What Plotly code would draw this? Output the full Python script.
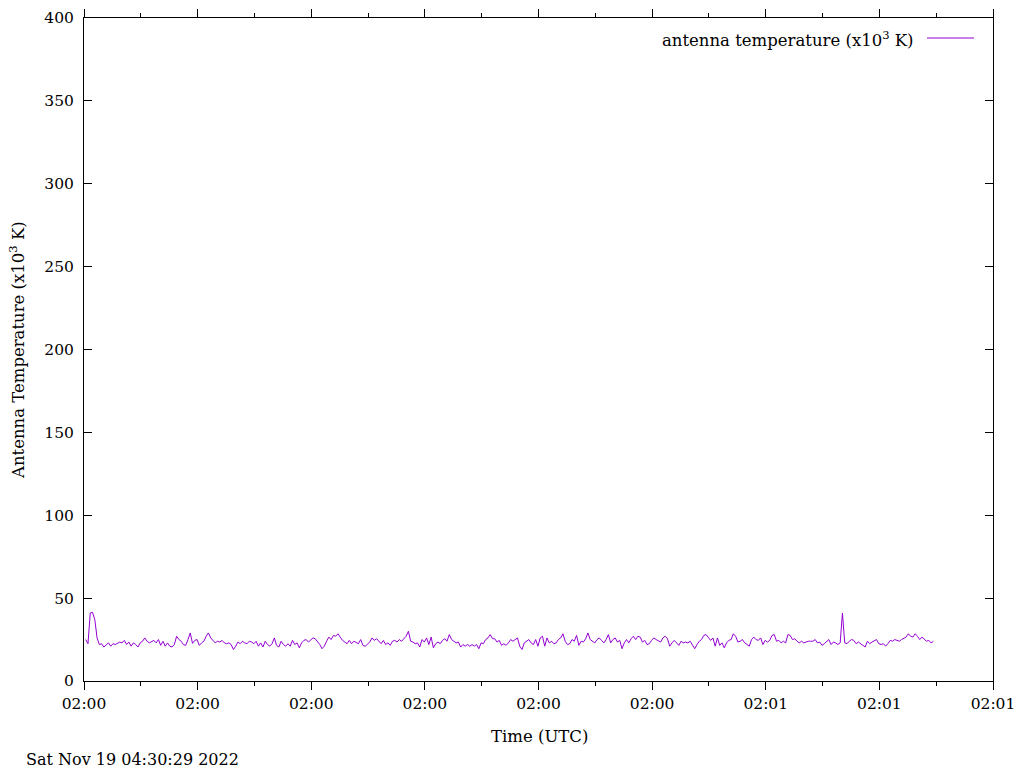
import plotly.graph_objects as go
import pandas as pd

# ---- data ----
start_time = "2022-11-19 02:00:00.150"
sample_period = "200ms"

seg1 = [25, 22.5, 41, 41.5, 37, 26, 22, 22.5, 20.5, 22, 23, 21, 22.5, 22, 23, 23.5, 23, 24.5, 22, 23.5,
        21, 23, 22, 20.5, 23, 24, 26, 24, 23, 24, 24.5, 23, 25, 21.5, 24, 21, 23, 21, 20.5, 22,
        27, 25, 24, 22, 21.5, 25, 29]
seg2 = [22.7, 24.5, 25, 21.5, 23, 24, 27, 29, 26, 24.5, 23, 24, 23.5, 24.5, 23, 22.5, 23, 22, 19, 21,
        23.5, 22.5, 24, 23, 22.5, 24, 23.5, 22.5, 24, 21, 23, 20.5, 24, 22, 21, 22.5, 26, 21.5, 20.5, 24,
        22, 21, 22.5, 21, 24.5]
seg3 = [22, 23, 20, 23, 24.5, 25, 23.5, 25, 26, 25.5, 24, 22, 19.5, 21, 24, 26.5, 25, 27.5, 27, 28.5,
        26.5, 24.5, 23.5, 22.5, 24.5, 22.5, 24, 23, 22.5, 25, 21.5, 21, 22, 23.5, 26, 24.5, 25.5, 24, 22.5, 24.5,
        22, 23, 21.5, 24, 24.5, 23.5, 25]
seg4 = [24, 25.5, 27, 30, 24, 23.5, 22.5, 23, 20.5, 25, 23.5, 26, 22, 26.5, 20, 22.5, 23.5, 22.5, 24.5, 25.5,
        24, 28, 25, 24, 23, 23.5, 20.5, 22, 21, 22, 21, 22, 21, 22, 19.5, 23, 22.5, 25, 26, 28,
        25.5, 25.5, 23.5, 24.5, 21.5, 22.5]
seg5 = [21.5, 23, 25, 24, 25, 26, 21, 19, 23, 24, 25, 23, 22, 25, 21, 26, 27, 21, 26, 23,
        24, 22.5, 23, 25, 26, 28.5, 24, 22, 22.5, 25, 24, 27.5, 21.5, 24, 23.5, 25.5, 29, 25, 24, 23,
        25, 26, 24.5, 23, 25, 28]
seg6 = [23, 25, 26, 23.5, 24.5, 19.5, 23, 25, 23, 25.5, 27, 25, 27, 26.5, 23.5, 24.5, 22, 22.5, 24.5, 26,
        25, 24, 23.5, 26, 27, 25.5, 21, 23, 24.5, 23, 21.5, 24, 23, 23.5, 23, 24, 21.5, 19.5, 22, 24,
        25, 27.5, 28, 26.5, 24.5, 26]
seg7 = [21, 26, 21.5, 23, 20, 23, 24.5, 25, 28.5, 27, 23.5, 24, 25, 23, 22, 21, 25, 26.5, 25, 24.5,
        26, 22, 24.5, 23.5, 24.5, 27.5, 28, 24, 24.5, 23, 24, 23, 28, 27.5, 25, 25.5, 24, 23, 24, 23,
        23.5, 24, 24, 24, 25, 23]
seg8 = [23.5, 21.5, 22.5, 24, 25, 22, 23.5, 23, 22, 23, 41, 23, 22.5, 24, 25, 24.5, 22.5, 23.5, 22.5, 21.5,
        20.5, 24, 22.5, 23.5, 24.5, 25, 22.5, 22, 22.5, 21, 22.5, 24.5, 24, 25, 24.5, 24, 25, 26, 26.5, 28.5,
        27, 26.5, 28.5, 27, 25, 26.5, 25, 24, 24.5, 23, 24]

antenna_temp = seg1 + seg2 + seg3 + seg4 + seg5 + seg6 + seg7 + seg8
times = pd.date_range(start_time, periods=len(antenna_temp), freq=sample_period)

x_range = ["2022-11-19 02:00:00", "2022-11-19 02:01:20"]
y_range = [0, 400]
legend_label = "antenna temperature (x10<sup>3</sup> K)"
x_title = "Time (UTC)"
y_title = "Antenna Temperature (x10<sup>3</sup> K)"
stamp = "Sat Nov 19 04:30:29 2022"

FONT = "DejaVu Serif"
LINE_COLOR = "#9400D3"
TEXT_SIZE = 16.5
TICK_SIZE = 15.5

fig = go.Figure()
fig.add_trace(go.Scatter(x=times, y=antenna_temp, mode="lines",
                         line=dict(color=LINE_COLOR, width=1), showlegend=False,
                         name="antenna temperature"))

# page body has an 8px margin, so the figure is 8px smaller than the window
fig.update_layout(
    width=1016, height=760,
    margin=dict(l=76, r=31, t=10, b=87, autoexpand=False),
    plot_bgcolor="white", paper_bgcolor="white",
    font=dict(family=FONT, size=TICK_SIZE, color="black"),
)
fig.update_xaxes(
    type="date", range=x_range, tick0=x_range[0], dtick=10000, tickformat="%H:%M",
    ticks="outside", ticklen=8, tickwidth=1, tickcolor="black",
    minor=dict(dtick=5000, ticks="outside", ticklen=4, tickcolor="black", showgrid=False),
    showline=True, linecolor="black", linewidth=1, mirror="ticks",
    showgrid=False, zeroline=False, automargin=False,
    tickfont=dict(family=FONT, size=TICK_SIZE, color="black"),
)
fig.update_yaxes(
    range=y_range, dtick=50, tick0=0,
    ticks="inside", ticklen=8, tickwidth=1, tickcolor="black",
    showline=True, linecolor="black", linewidth=1, mirror="ticks",
    showgrid=False, zeroline=False, ticklabelstandoff=6, automargin=False,
    tickfont=dict(family=FONT, size=TICK_SIZE, color="black"),
)

# helpers: page-pixel -> paper coordinates (plot area spans x 84..993, y 18..681 on the page)
W, H = 909.0, 663.0
def px(xp):
    return (xp - 84) / W
def py(yp):
    return (681 - yp) / H

fig.add_annotation(text=legend_label, xref="paper", yref="paper", x=px(916), y=py(39),
                   xanchor="right", yanchor="middle", showarrow=False,
                   font=dict(family=FONT, size=TEXT_SIZE, color="black"))
fig.add_shape(type="line", xref="paper", yref="paper", x0=px(927), x1=px(974), y0=py(38), y1=py(38),
              line=dict(color=LINE_COLOR, width=1))
fig.add_annotation(text=x_title, xref="paper", yref="paper", x=px(539), y=py(736),
                   xanchor="center", yanchor="middle", showarrow=False,
                   font=dict(family=FONT, size=TEXT_SIZE, color="black"))
fig.add_annotation(text=y_title, xref="paper", yref="paper", x=px(17), y=py(350),
                   xanchor="center", yanchor="middle", showarrow=False, textangle=-90,
                   font=dict(family=FONT, size=TEXT_SIZE, color="black"))
fig.add_annotation(text=stamp, xref="paper", yref="paper", x=px(24), y=py(759),
                   xanchor="left", yanchor="middle", showarrow=False,
                   font=dict(family=FONT, size=16, color="black"))

fig.write_html("out.html")
